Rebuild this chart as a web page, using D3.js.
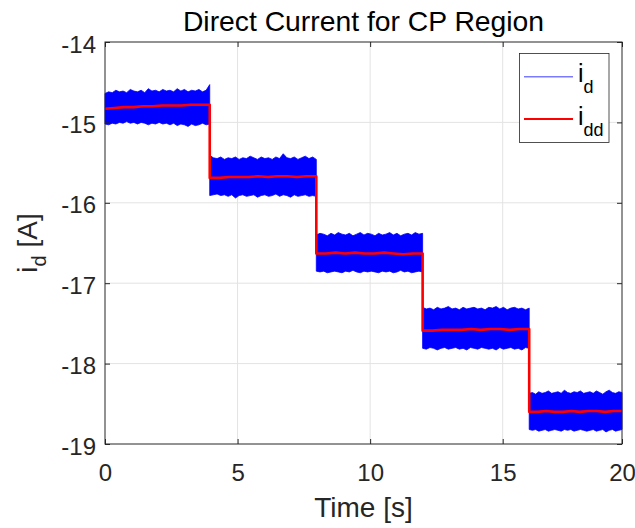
<!DOCTYPE html>
<html>
<head>
<meta charset="utf-8">
<script src="https://cdn.jsdelivr.net/npm/d3@7/dist/d3.min.js"></script>
<style>
  html, body { margin: 0; padding: 0; background: #fff; }
  svg { display: block; font-family: "Liberation Sans", Arial, Helvetica, sans-serif; }
</style>
</head>
<body>
<svg id="chart" width="635" height="528"></svg>
<script>
// Segment boundaries of the current-step profile [s]
const stepTimes = [0, 3.95, 7.97, 11.98, 16.0, 19.5];

// Upper envelope of the measured current i_d per segment [A]
const idUpper = [
  [-14.64, -14.62, -14.63, -14.60, -14.62, -14.61, -14.63, -14.59, -14.61, -14.62, -14.60, -14.63, -14.58, -14.61, -14.60, -14.62, -14.59, -14.61, -14.60, -14.62, -14.58, -14.61, -14.59, -14.62, -14.60, -14.61, -14.59, -14.62, -14.60, -14.53],
  [-15.41, -15.44, -15.45, -15.43, -15.46, -15.44, -15.45, -15.43, -15.46, -15.44, -15.45, -15.42, -15.44, -15.46, -15.43, -15.45, -15.44, -15.46, -15.43, -15.45, -15.39, -15.44, -15.45, -15.43, -15.46, -15.44, -15.42, -15.45, -15.43, -15.46],
  [-16.40, -16.38, -16.39, -16.41, -16.38, -16.40, -16.37, -16.39, -16.40, -16.38, -16.41, -16.39, -16.37, -16.40, -16.38, -16.39, -16.41, -16.38, -16.40, -16.39, -16.37, -16.40, -16.38, -16.41, -16.39, -16.38, -16.40, -16.37, -16.39, -16.38],
  [-17.30, -17.32, -17.31, -17.33, -17.30, -17.32, -17.31, -17.29, -17.32, -17.31, -17.33, -17.30, -17.32, -17.31, -17.30, -17.32, -17.31, -17.33, -17.30, -17.31, -17.29, -17.32, -17.30, -17.33, -17.31, -17.30, -17.32, -17.31, -17.33, -17.31],
  [-18.37, -18.36, -18.38, -18.35, -18.37, -18.36, -18.34, -18.37, -18.36, -18.35, -18.37, -18.33, -18.36, -18.37, -18.35, -18.36, -18.34, -18.37, -18.36, -18.35, -18.37, -18.34, -18.36, -18.38, -18.35, -18.33, -18.36, -18.37, -18.35, -18.36]
];

// Lower envelope of the measured current i_d per segment [A]
const idLower = [
  [-15.02, -15.03, -15.01, -15.02, -15.00, -15.01, -14.99, -15.01, -15.00, -15.02, -15.00, -15.01, -15.03, -15.01, -15.02, -15.00, -15.02, -15.01, -15.03, -15.01, -15.04, -15.02, -15.03, -15.05, -15.02, -15.04, -15.03, -15.01, -15.03, -15.02],
  [-15.91, -15.90, -15.89, -15.91, -15.90, -15.92, -15.90, -15.94, -15.91, -15.90, -15.92, -15.91, -15.90, -15.93, -15.91, -15.90, -15.92, -15.91, -15.89, -15.92, -15.90, -15.91, -15.93, -15.90, -15.92, -15.91, -15.90, -15.92, -15.91, -15.92],
  [-16.85, -16.86, -16.85, -16.87, -16.86, -16.85, -16.86, -16.87, -16.85, -16.86, -16.84, -16.86, -16.87, -16.85, -16.86, -16.85, -16.86, -16.87, -16.85, -16.86, -16.85, -16.87, -16.86, -16.84, -16.86, -16.85, -16.87, -16.86, -16.85, -16.86],
  [-17.81, -17.82, -17.80, -17.81, -17.83, -17.81, -17.80, -17.82, -17.81, -17.80, -17.82, -17.81, -17.83, -17.80, -17.81, -17.82, -17.80, -17.81, -17.82, -17.81, -17.83, -17.80, -17.82, -17.81, -17.80, -17.82, -17.81, -17.83, -17.80, -17.81],
  [-18.82, -18.83, -18.82, -18.84, -18.83, -18.82, -18.84, -18.83, -18.82, -18.83, -18.84, -18.82, -18.83, -18.82, -18.84, -18.83, -18.82, -18.83, -18.84, -18.83, -18.82, -18.84, -18.83, -18.82, -18.85, -18.83, -18.82, -18.84, -18.83, -18.82]
];

// Filtered current i_dd per segment [A]
const iddValues = [
  [-14.83, -14.82, -14.81, -14.81, -14.80, -14.80, -14.79, -14.79, -14.79, -14.78, -14.78, -14.78],
  [-15.69, -15.69, -15.68, -15.68, -15.68, -15.67, -15.68, -15.67, -15.67, -15.68, -15.67, -15.67],
  [-16.63, -16.63, -16.62, -16.63, -16.62, -16.63, -16.63, -16.62, -16.63, -16.64, -16.63, -16.63],
  [-17.59, -17.59, -17.58, -17.58, -17.58, -17.57, -17.58, -17.57, -17.57, -17.58, -17.57, -17.57],
  [-18.60, -18.60, -18.59, -18.60, -18.60, -18.59, -18.60, -18.59, -18.59, -18.60, -18.59, -18.59]
];

// Axis ticks
const xTickValues = [0, 5, 10, 15, 19.5];
const xTickLabels = ["0", "5", "10", "15", "20"];
const yTickValues = [-19, -18, -17, -16, -15, -14];

const svg = d3.select("#chart");
const plotLeft = 105, plotRight = 622, plotTop = 42, plotBottom = 444;
const axisColor = "#262626";

const x = d3.scaleLinear().domain([0, 19.5]).range([plotLeft, plotRight]);
const y = d3.scaleLinear().domain([-19, -14]).range([plotBottom, plotTop]);

// Spread each segment's samples evenly over its time span
function sampleSegments(values) {
  const pts = [];
  values.forEach((seg, k) => {
    const t0 = stepTimes[k], t1 = stepTimes[k + 1];
    seg.forEach((v, i) => pts.push({ t: t0 + (t1 - t0) * i / (seg.length - 1), v, k, i }));
  });
  return pts;
}

// Grid
const grid = svg.append("g").attr("stroke", "#e3e3e3").attr("stroke-width", 1);
xTickValues.slice(1, -1).forEach(v => {
  grid.append("line").attr("x1", x(v)).attr("x2", x(v)).attr("y1", plotTop).attr("y2", plotBottom);
});
yTickValues.slice(1, -1).forEach(v => {
  grid.append("line").attr("x1", plotLeft).attr("x2", plotRight).attr("y1", y(v)).attr("y2", y(v));
});

// Measured current band
const upperPts = sampleSegments(idUpper);
const band = upperPts.map(p => ({ t: p.t, hi: p.v, lo: idLower[p.k][p.i] }));
svg.append("path")
  .datum(band)
  .attr("fill", "#0000ff")
  .attr("stroke", "#0000ff")
  .attr("stroke-width", 0.8)
  .attr("d", d3.area().x(d => x(d.t)).y0(d => y(d.lo)).y1(d => y(d.hi)));

// Filtered current
svg.append("path")
  .datum(sampleSegments(iddValues))
  .attr("fill", "none")
  .attr("stroke", "#ff0000")
  .attr("stroke-width", 2.6)
  .attr("stroke-linejoin", "round")
  .attr("d", d3.line().x(d => x(d.t)).y(d => y(d.v)));

// Axes with inward ticks on all four sides
function styleAxis(g) {
  g.select(".domain").remove();
  g.selectAll(".tick line").attr("stroke", axisColor);
  g.selectAll(".tick text").attr("fill", axisColor).attr("font-size", 24)
    .attr("font-family", "'Liberation Sans', Arial, Helvetica, sans-serif");
}
svg.append("g").attr("transform", `translate(0,${plotBottom})`)
  .call(d3.axisBottom(x).tickValues(xTickValues).tickFormat((d, i) => xTickLabels[i])
    .tickSizeInner(-5).tickSizeOuter(0).tickPadding(20))
  .call(styleAxis);
svg.append("g").attr("transform", `translate(${plotLeft},0)`)
  .call(d3.axisLeft(y).tickValues(yTickValues).tickFormat(d => String(d))
    .tickSizeInner(-5).tickSizeOuter(0).tickPadding(9))
  .call(styleAxis)
  .selectAll(".tick text").attr("dy", "0.42em");
svg.append("g").attr("transform", `translate(0,${plotTop})`)
  .call(d3.axisTop(x).tickValues(xTickValues).tickFormat("").tickSizeInner(-5).tickSizeOuter(0))
  .call(styleAxis);
svg.append("g").attr("transform", `translate(${plotRight},0)`)
  .call(d3.axisRight(y).tickValues(yTickValues).tickFormat("").tickSizeInner(-5).tickSizeOuter(0))
  .call(styleAxis);

svg.append("rect")
  .attr("x", plotLeft).attr("y", plotTop)
  .attr("width", plotRight - plotLeft).attr("height", plotBottom - plotTop)
  .attr("fill", "none").attr("stroke", axisColor).attr("stroke-width", 1);

// Title and axis labels
svg.append("text")
  .attr("x", (plotLeft + plotRight) / 2).attr("y", 30.5)
  .attr("text-anchor", "middle").attr("font-size", 28.3).attr("fill", "#000")
  .text("Direct Current for CP Region");

svg.append("text")
  .attr("x", (plotLeft + plotRight) / 2).attr("y", 517)
  .attr("text-anchor", "middle").attr("font-size", 28).attr("fill", axisColor)
  .text("Time [s]");

const yLabel = svg.append("text")
  .attr("transform", `translate(37,${(plotTop + plotBottom) / 2}) rotate(-90)`)
  .attr("text-anchor", "middle").attr("font-size", 28).attr("fill", axisColor);
yLabel.append("tspan").text("i");
yLabel.append("tspan").attr("font-size", 20).attr("dy", 9).text("d");
yLabel.append("tspan").attr("dy", -9).text(" [A]");

// Legend
const legend = svg.append("g");
legend.append("rect")
  .attr("x", 519.5).attr("y", 53.5).attr("width", 89.5).attr("height", 89)
  .attr("fill", "#fff").attr("stroke", axisColor).attr("stroke-width", 0.8);
const legendItems = [
  { name: "i", sub: "d", color: "#7a7aff", width: 1.5, ly: 76.7 },
  { name: "i", sub: "dd", color: "#ff0000", width: 2.2, ly: 119 }
];
legendItems.forEach(item => {
  legend.append("line")
    .attr("x1", 524).attr("x2", 573).attr("y1", item.ly).attr("y2", item.ly)
    .attr("stroke", item.color).attr("stroke-width", item.width);
  const t = legend.append("text")
    .attr("x", 578).attr("y", item.ly + 5.5)
    .attr("font-size", 25).attr("fill", "#000");
  t.append("tspan").text(item.name);
  t.append("tspan").attr("font-size", 18).attr("dy", 11).text(item.sub);
});
</script>
</body>
</html>
